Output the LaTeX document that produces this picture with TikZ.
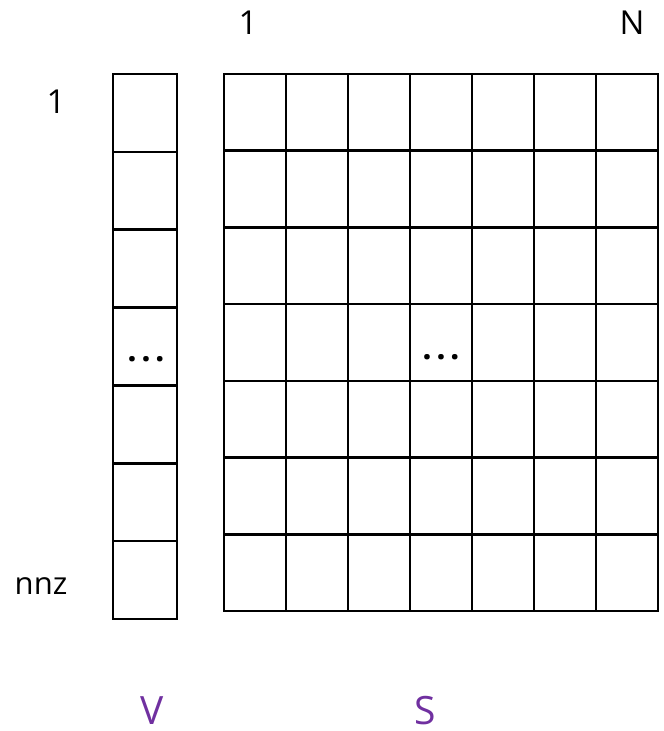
\documentclass[tikz,border=0pt]{standalone}
\usepackage{fontspec}
\setmainfont{Open Sans}
\definecolor{vpurple}{HTML}{7030A0}
\begin{document}
\begin{tikzpicture}[x=1pt,y=-1pt,
  gridline/.style={line width=2.6pt,line cap=rect},
  lbl/.style={anchor=base,inner sep=0pt,font=\fontsize{33}{36}\selectfont},
  dotslbl/.style={lbl,font=\fontsize{33}{36}\selectfont\bfseries},
  big/.style={anchor=base,inner sep=0pt,text depth=0pt,font=\fontsize{39}{44}\selectfont,text=vpurple}]
\useasboundingbox (0,0) rectangle (664,731);
% V column
\foreach \i in {0,...,7} {
  \draw[gridline] (113,74+\i*77.86) -- (177,74+\i*77.86);
}
\draw[gridline] (113,74) -- (113,619);
\draw[gridline] (177,74) -- (177,619);
% S grid
\foreach \i in {0,...,7} {
  \draw[gridline] (224,74+\i*76.71) -- (658,74+\i*76.71);
  \draw[gridline] (224+\i*62,74) -- (224+\i*62,611);
}
% labels
\node[lbl] (c1) at (248,34) {1};
\node[lbl] (cN) at (632,34) {N};
\node[lbl] (r1) at (56,113) {1};
\node[lbl,font=\fontsize{31}{36}\selectfont] (rn) at (41,594) {nnz};
\node[dotslbl] (vd) at (146,361) {.\hspace{4.5pt}.\hspace{4.5pt}.};
\node[dotslbl] (sd) at (441,359) {.\hspace{4.5pt}.\hspace{4.5pt}.};
\node[big] (V) at (152,724) {V};
\node[big] (S) at (425,724) {S};
\end{tikzpicture}
\end{document}
